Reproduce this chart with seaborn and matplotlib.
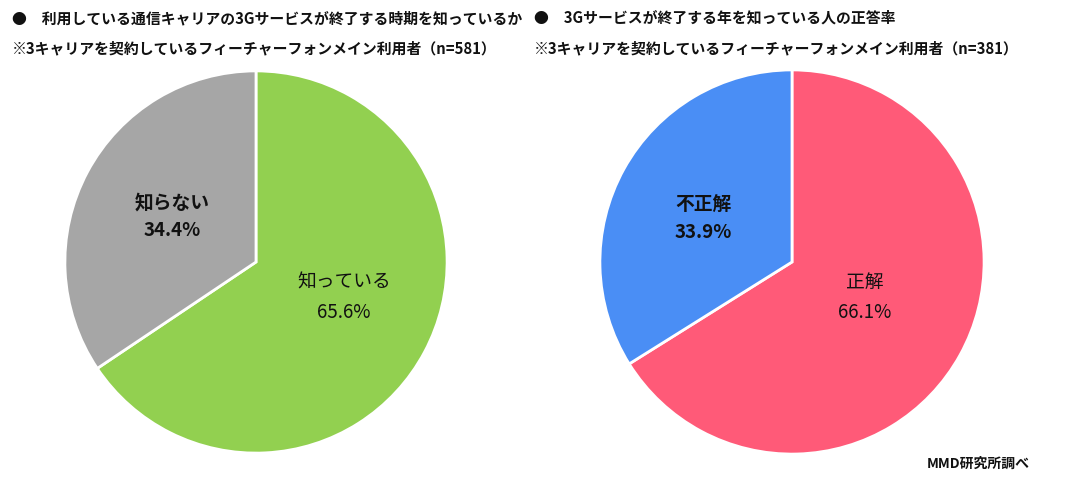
import matplotlib
matplotlib.use("Agg")
import matplotlib.pyplot as plt
import seaborn as sns

sns.set_theme(style="white")
plt.rcParams['font.family'] = ['Noto Sans CJK JP', 'DejaVu Sans']

# Data
left_labels = ["知っている", "知らない"]
left_values = [65.6, 34.4]
left_colors = ["#92D050", "#A6A6A6"]
left_title = "●　利用している通信キャリアの3Gサービスが終了する時期を知っているか"
left_sub = "※3キャリアを契約しているフィーチャーフォンメイン利用者（n=581）"

right_labels = ["正解", "不正解"]
right_values = [66.1, 33.9]
right_colors = ["#FF5A78", "#4A8EF5"]
right_title = "●　3Gサービスが終了する年を知っている人の正答率"
right_sub = "※3キャリアを契約しているフィーチャーフォンメイン利用者（n=381）"

source = "MMD研究所調べ"

W, H = 1070, 489
fig = plt.figure(figsize=(W / 100, H / 100), dpi=100)
fig.patch.set_facecolor("white")


def px_axes(cx, cy, r):
    return fig.add_axes([(cx - r) / W, (H - cy - r) / H, 2 * r / W, 2 * r / H])


def draw_pie(ax, values, labels, colors, label_pos, bold_flags):
    wedges, _ = ax.pie(values, colors=colors, startangle=90, counterclock=False,
                       radius=1.0, wedgeprops=dict(edgecolor="white", linewidth=2))
    ax.set_xlim(-1.01, 1.01)
    ax.set_ylim(-1.01, 1.01)
    ax.set_aspect("equal")
    ax.axis("off")
    for v, lab, pos, b in zip(values, labels, label_pos, bold_flags):
        ax.text(pos[0], pos[1], f"{lab}\n{v:.1f}%", ha="center", va="center",
                fontsize=13.5, fontweight="bold" if b else "normal",
                color="#111111", linespacing=1.55)


ax1 = px_axes(256, 263, 193)
draw_pie(ax1, left_values, left_labels, left_colors,
         [(0.46, -0.18), (-0.44, 0.24)], [False, True])

ax2 = px_axes(792, 263, 194)
draw_pie(ax2, right_values, right_labels, right_colors,
         [(0.38, -0.18), (-0.46, 0.23)], [False, True])

fs_title = 10.7
fig.text(12 / W, 1 - 18 / H, left_title, fontsize=fs_title, fontweight="bold",
         ha="left", va="center", color="#111111")
fig.text(12 / W, 1 - 48 / H, left_sub, fontsize=fs_title, fontweight="bold",
         ha="left", va="center", color="#111111")
fig.text(534 / W, 1 - 18 / H, right_title, fontsize=fs_title, fontweight="bold",
         ha="left", va="center", color="#111111")
fig.text(534 / W, 1 - 48 / H, right_sub, fontsize=fs_title, fontweight="bold",
         ha="left", va="center", color="#111111")
fig.text(1030 / W, 1 - 464 / H, source, fontsize=10, fontweight="bold",
         ha="right", va="center", color="#111111")

fig.savefig("out.png", dpi=100, facecolor="white")
